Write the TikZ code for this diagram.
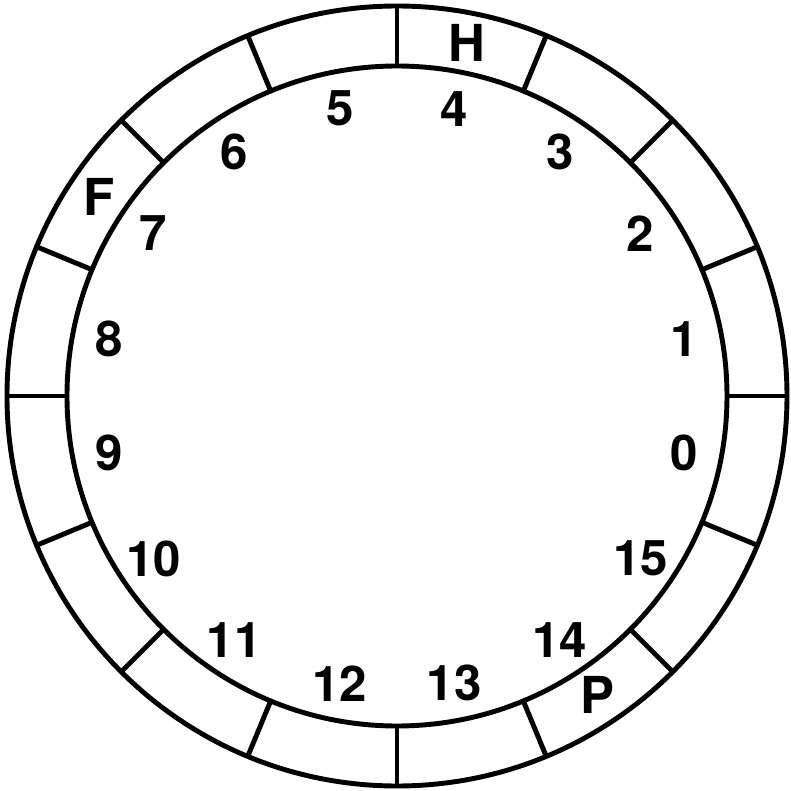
\documentclass[tikz,border=0pt]{standalone}
\usepackage{fontspec}
\setmainfont{TeX Gyre Heros}
\usepackage{tikz}
\usetikzlibrary{calc}
\newcommand{\rin}{3.30}
\newcommand{\rout}{3.90}

\begin{document}
\begin{tikzpicture}[
    ring/.style={line width=1.4pt},
    idx/.style={font=\fontsize{14}{16}\selectfont\bfseries,inner sep=0pt},
    tag/.style={font=\fontsize{14.5}{16}\selectfont\bfseries,inner sep=0pt}
]
\useasboundingbox (-3.97,-3.95) rectangle (3.94,3.96);

\draw[ring] (0,0) circle (\rout);
\draw[ring] (0,0) circle (\rin);

% slot dividers
\foreach \k in {0,...,15}
    \draw[ring] (\k*22.5:\rin) -- (\k*22.5:\rout);

% slot numbers
\foreach \k in {0,...,15}
    \node[idx] (n\k) at ({\k*22.5-11.25}:2.93) {\k};

\node[tag] (head) at (78.75:3.60) {H};
\node[tag] (free) at (146.25:3.58) {F};
\node[tag] (ptr)  at (303.75:3.60) {P};
\end{tikzpicture}
\end{document}
